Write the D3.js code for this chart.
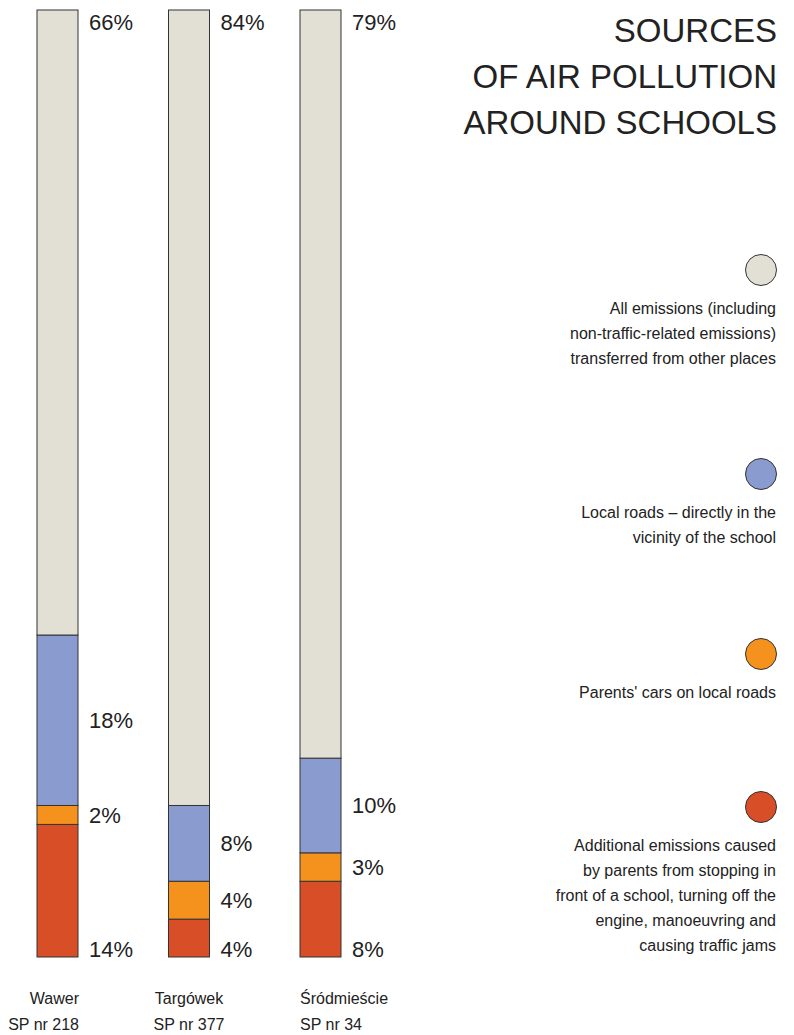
<!DOCTYPE html>
<html>
<head>
<meta charset="utf-8">
<script src="https://cdn.jsdelivr.net/npm/d3@7"></script>
<style>
  body { margin: 0; background: #fff; }
  text { font-family: "Liberation Sans", Arial, sans-serif; fill: #222; }
</style>
</head>
<body>
<svg width="794" height="1035"></svg>
<script>
// data
var schools = ["Wawer", "Targówek", "Śródmieście"];
var schoolNumbers = ["SP nr 218", "SP nr 377", "SP nr 34"];
var sources = ["other", "local", "parents", "extra"];
// values per source, in school order (percent)
var otherEmissions = [66, 84, 79];
var localRoads = [18, 8, 10];
var parentsCars = [2, 4, 3];
var extraEmissions = [14, 4, 8];

var colors = ["#e2e0d5", "#8a9bcf", "#f5921e", "#d84f27"];
var legendLines = [
  ["All emissions (including", "non-traffic-related emissions)", "transferred from other places"],
  ["Local roads \u2013 directly in the", "vicinity of the school"],
  ["Parents' cars on local roads"],
  ["Additional emissions caused", "by parents from stopping in", "front of a school, turning off the", "engine, manoeuvring and", "causing traffic jams"]
];
var titleLines = ["SOURCES", "OF AIR POLLUTION", "AROUND SCHOOLS"];

var svg = d3.select("svg");

// table for the stack: bottom = extra, then parents, local, other on top
var table = schools.map(function(s, i) {
  return { school: s, other: otherEmissions[i], local: localRoads[i], parents: parentsCars[i], extra: extraEmissions[i] };
});
var stackOrder = ["extra", "parents", "local", "other"];
var stack = d3.stack().keys(stackOrder)(table);

var color = d3.scaleOrdinal().domain(sources).range(colors);

var x = d3.scalePoint().domain(schools).range([57.5, 320.5]);
var barW = 41;
var y = d3.scaleLinear().domain([0, 100]).range([957, 10]);

// bars
var layers = svg.append("g")
  .selectAll("g")
  .data(stack)
  .enter()
  .append("g")
    .attr("fill", function(d) { return color(d.key); });

layers.selectAll("rect")
  .data(function(d) { return d; })
  .enter()
  .append("rect")
    .attr("x", function(d) { return x(d.data.school) - barW / 2; })
    .attr("y", function(d) { return y(d[1]); })
    .attr("width", barW)
    .attr("height", function(d) { return y(d[0]) - y(d[1]); })
    .attr("stroke", "#333")
    .attr("stroke-width", 1);

// value labels
layers.each(function(layer) {
  d3.select(this).selectAll("text")
    .data(layer)
    .enter()
    .append("text")
      .attr("x", function(d) { return x(d.data.school) + barW / 2 + 11; })
      .attr("y", function(d) {
        if (layer.key == "other") return y(d[1]) + 20;
        if (layer.key == "extra") return y(d[0]);
        return (y(d[0]) + y(d[1])) / 2 + 8;
      })
      .attr("font-size", 22)
      .attr("fill", "#222")
      .text(function(d) { return d.data[layer.key] + "%"; });
});

// school names under bars
var anchors = ["end", "middle", "start"];
var catLabels = svg.append("g")
  .selectAll("g")
  .data(schools)
  .enter()
  .append("text")
    .attr("font-size", 16)
    .attr("text-anchor", function(d, i) { return anchors[i]; })
    .attr("x", function(d, i) {
      if (anchors[i] == "end") return x(d) + barW / 2 + 1;
      if (anchors[i] == "start") return x(d) - barW / 2;
      return x(d);
    });
catLabels.append("tspan").attr("y", 1004).text(function(d) { return d; });
catLabels.append("tspan")
  .attr("x", function(d, i) { return d3.select(this.parentNode).attr("x"); })
  .attr("y", 1030)
  .text(function(d, i) { return schoolNumbers[i]; });

// title
svg.append("text")
  .attr("text-anchor", "end")
  .attr("font-size", 33)
  .selectAll("tspan")
  .data(titleLines)
  .enter()
  .append("tspan")
    .attr("x", 777)
    .attr("y", function(d, i) { return 42 + i * 46; })
    .text(function(d) { return d; });

// legend
var legendY = [270, 474, 654, 807];
var legend = svg.append("g")
  .selectAll("g")
  .data(sources)
  .enter()
  .append("g")
    .attr("transform", function(d, i) { return "translate(0," + legendY[i] + ")"; });

legend.append("circle")
  .attr("cx", 761)
  .attr("cy", 0)
  .attr("r", 15.5)
  .attr("fill", function(d) { return color(d); })
  .attr("stroke", "#333");

legend.append("text")
  .attr("text-anchor", "end")
  .attr("font-size", 16)
  .selectAll("tspan")
  .data(function(d, i) { return legendLines[i]; })
  .enter()
  .append("tspan")
    .attr("x", 776)
    .attr("y", function(d, j) { return 44 + j * 25; })
    .text(function(d) { return d; });
</script>
</body>
</html>
